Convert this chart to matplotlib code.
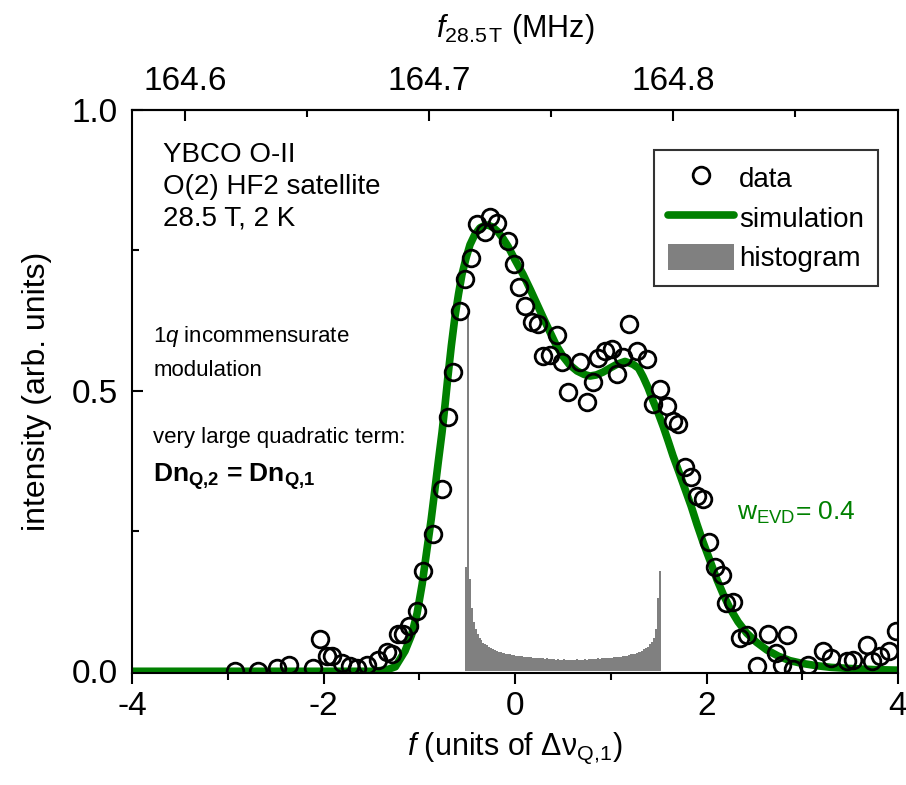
"""NMR satellite spectrum with simulation and field-distribution histogram"""
import matplotlib
matplotlib.use("Agg")
import matplotlib.pyplot as plt
from matplotlib.ticker import MultipleLocator, FixedLocator, FormatStrFormatter
from matplotlib.lines import Line2D
from matplotlib.patches import Patch
import numpy as np

plt.rcParams['font.family'] = ['Liberation Sans', 'DejaVu Sans']
plt.rcParams['mathtext.fontset'] = 'custom'
plt.rcParams['mathtext.rm'] = 'Liberation Sans'
plt.rcParams['mathtext.it'] = 'Liberation Sans:italic'
plt.rcParams['mathtext.bf'] = 'Liberation Sans:bold'
plt.rcParams['axes.unicode_minus'] = False

data_f = [-2.924, -2.684, -2.486, -2.360, -2.110, -2.037, -1.963, -1.911, -1.807,
          -1.723, -1.650, -1.546, -1.431, -1.337, -1.285, -1.222, -1.170, -1.107,
          -1.023, -0.961, -0.856, -0.762, -0.700, -0.648, -0.574, -0.522, -0.460,
          -0.397, -0.313, -0.261, -0.188, -0.073, -0.010, 0.042, 0.104, 0.178,
          0.240, 0.292, 0.366, 0.439, 0.491, 0.554, 0.679, 0.752, 0.815, 0.867,
          0.940, 1.013, 1.065, 1.128, 1.191, 1.274, 1.379, 1.441, 1.514, 1.587,
          1.650, 1.702, 1.775, 1.838, 1.901, 1.963, 2.026, 2.089, 2.162, 2.204,
          2.277, 2.350, 2.423, 2.527, 2.642, 2.726, 2.789, 2.841, 2.903, 3.060,
          3.217, 3.300, 3.467, 3.530, 3.676, 3.728, 3.812, 3.906, 3.979]
data_i = [0.000, 0.000, 0.005, 0.011, 0.005, 0.057, 0.028, 0.028, 0.014,
          0.009, 0.005, 0.011, 0.020, 0.034, 0.030, 0.066, 0.067, 0.080,
          0.107, 0.179, 0.245, 0.325, 0.453, 0.533, 0.641, 0.698, 0.737,
          0.796, 0.783, 0.810, 0.799, 0.766, 0.725, 0.684, 0.650, 0.623,
          0.618, 0.561, 0.563, 0.600, 0.551, 0.497, 0.551, 0.480, 0.515, 0.558,
          0.570, 0.574, 0.529, 0.560, 0.618, 0.570, 0.556, 0.476, 0.503, 0.472,
          0.446, 0.440, 0.364, 0.346, 0.313, 0.307, 0.231, 0.185, 0.171, 0.121,
          0.124, 0.060, 0.064, 0.009, 0.066, 0.032, 0.012, 0.064, 0.004, 0.011,
          0.037, 0.023, 0.018, 0.020, 0.046, 0.018, 0.028, 0.037, 0.071]

# simulated line shape
sim_f = [-4.0, -1.5, -1.35, -1.25, -1.149, -1.08, -1.023, -0.97, -0.919, -0.876,
         -0.836, -0.80, -0.762, -0.730, -0.700, -0.665, -0.627, -0.59, -0.554,
         -0.51, -0.470, -0.42, -0.366, -0.32, -0.282, -0.23, -0.178, -0.125,
         -0.073, 0.0, 0.084, 0.16, 0.230, 0.30, 0.366, 0.43, 0.501, 0.57, 0.648,
         0.72, 0.783, 0.85, 0.919, 0.99, 1.065, 1.149, 1.232, 1.29, 1.337, 1.39,
         1.441, 1.50, 1.55, 1.60, 1.65, 1.71, 1.775, 1.84, 1.90, 1.96, 2.03,
         2.11, 2.18, 2.245, 2.33, 2.42, 2.52, 2.63, 2.75, 2.87, 3.0, 3.15, 3.3,
         3.5, 3.75, 4.0]
sim_i = [0.0, 0.0, 0.002, 0.008, 0.036, 0.065, 0.103, 0.155, 0.218, 0.270,
         0.325, 0.375, 0.426, 0.476, 0.526, 0.580, 0.632, 0.672, 0.707,
         0.737, 0.760, 0.778, 0.790, 0.794, 0.795, 0.791, 0.783, 0.771,
         0.757, 0.733, 0.707, 0.680, 0.654, 0.628, 0.604, 0.581, 0.561, 0.546, 0.535,
         0.529, 0.526, 0.528, 0.533, 0.540, 0.547, 0.552, 0.547, 0.540, 0.525, 0.505,
         0.482, 0.458, 0.435, 0.410, 0.384, 0.356, 0.325, 0.294, 0.262, 0.232, 0.200,
         0.163, 0.135, 0.112, 0.088, 0.068, 0.052, 0.038, 0.027, 0.019, 0.014, 0.010, 0.007,
         0.005, 0.003, 0.002]

# histogram of the quadrupole shift distribution, bins of 0.02 starting at -0.52
hist_start = -0.52
hist_width = 0.02
hist_vals = [0.185, 0.635, 0.165, 0.112, 0.088, 0.075, 0.066, 0.060, 0.055, 0.051,
             0.048, 0.046, 0.043, 0.041, 0.040, 0.038, 0.036, 0.035, 0.034, 0.033,
             0.032, 0.031, 0.031, 0.030, 0.029, 0.029, 0.028, 0.028, 0.027, 0.027,
             0.026, 0.026, 0.025, 0.025, 0.025, 0.024,
             0.024, 0.024, 0.023, 0.023, 0.023, 0.022, 0.023, 0.022, 0.022, 0.022,
             0.022, 0.021, 0.022, 0.021, 0.021, 0.022, 0.021, 0.021, 0.021, 0.021,
             0.021, 0.021, 0.022, 0.021, 0.021, 0.021, 0.022, 0.021, 0.022, 0.022,
             0.022, 0.022, 0.022, 0.023, 0.022, 0.023, 0.023, 0.023, 0.024, 0.024,
             0.024, 0.025, 0.025, 0.025, 0.026, 0.026, 0.027, 0.027, 0.028, 0.029,
             0.030, 0.030, 0.031, 0.033, 0.034,
             0.035, 0.037, 0.039, 0.041, 0.044,
             0.048, 0.053, 0.060, 0.075, 0.130, 0.178]

# frequency scale of the top axis
mhz_at_zero = 164.7352
mhz_per_unit = 0.03924
mhz_ticks = [164.6, 164.7, 164.8]
mhz_minor = [164.55, 164.65, 164.75, 164.85]

green = '#008000'
grey = '#808080'

fig = plt.figure(figsize=(9.06, 7.85), dpi=100)
ax = fig.add_axes([0.1457, 0.1427, 0.8455, 0.7172])

hist_left = hist_start + hist_width * np.arange(len(hist_vals))
ax.bar(hist_left, hist_vals, width=hist_width, align='edge', color=grey,
       linewidth=0, zorder=1)
ax.plot(sim_f, sim_i, color=green, linewidth=5.5, solid_capstyle='round',
        solid_joinstyle='round', zorder=2)
ax.plot(data_f, data_i, 'o', markersize=12, markerfacecolor='none',
        markeredgecolor='black', markeredgewidth=2, zorder=3)

ax.set_xlim(-4, 4)
ax.set_ylim(-0.003, 1.0)
ax.xaxis.set_major_locator(MultipleLocator(2))
ax.xaxis.set_minor_locator(MultipleLocator(1))
ax.yaxis.set_major_locator(MultipleLocator(0.5))
ax.yaxis.set_minor_locator(MultipleLocator(0.25))
ax.yaxis.set_major_formatter(FormatStrFormatter('%.1f'))
ax.tick_params(axis='x', which='both', direction='out', top=False, labelsize=24,
               width=1.5, pad=5)
ax.tick_params(axis='x', which='major', length=8)
ax.tick_params(axis='x', which='minor', length=5)
ax.tick_params(axis='y', which='both', direction='in', right=False, labelsize=24,
               width=1.5, pad=10)
ax.tick_params(axis='y', which='major', length=8)
ax.tick_params(axis='y', which='minor', length=5)
for s in ax.spines.values():
    s.set_linewidth(1.5)

ax.set_xlabel(r'$\mathit{f}$ (units of $\Delta\mathrm{\nu}_{\mathregular{Q{,}1}}$)',
              fontsize=22, labelpad=6)
ax.set_ylabel('intensity (arb. units)', fontsize=23, labelpad=14)

# top axis in MHz
secax = ax.secondary_xaxis('top', functions=(lambda f: mhz_at_zero + mhz_per_unit * f,
                                             lambda m: (m - mhz_at_zero) / mhz_per_unit))
secax.xaxis.set_major_locator(FixedLocator(mhz_ticks))
secax.xaxis.set_minor_locator(FixedLocator(mhz_minor))
secax.xaxis.set_major_formatter(FormatStrFormatter('%.1f'))
secax.tick_params(axis='x', which='both', direction='in', labelsize=24, width=1.5, pad=9)
secax.tick_params(axis='x', which='major', length=8)
secax.tick_params(axis='x', which='minor', length=5)
secax.spines['top'].set_linewidth(1.5)
secax.set_xlabel(r'$\mathit{f}_{\mathregular{28.5\,T}}$ (MHz)', fontsize=22, labelpad=21)

# annotations
ax.text(-3.68, 0.943, 'YBCO O-II\nO(2) HF2 satellite\n28.5 T, 2 K', fontsize=20,
        va='top', ha='left', linespacing=1.28)
ax.text(-3.78, 0.597, '1$\\mathit{q}$ incommensurate', fontsize=16, va='center')
ax.text(-3.78, 0.535, 'modulation', fontsize=16, va='center')
ax.text(-3.78, 0.416, 'very large quadratic term:', fontsize=16, va='center')
ax.text(-3.78, 0.347, r'Dn$_{\mathbf{Q{,}2}}$ = Dn$_{\mathbf{Q{,}1}}$', fontsize=19,
        fontweight='bold', va='center')
ax.text(2.32, 0.283, r'w$_{\mathregular{EVD}}$= 0.4', fontsize=19, color=green,
        va='center')

handles = [
    Line2D([], [], linestyle='none', marker='o', markersize=12,
           markerfacecolor='none', markeredgecolor='black', markeredgewidth=2),
    Line2D([], [], color=green, linewidth=5.5, solid_capstyle='round'),
    Patch(facecolor=grey, edgecolor='none'),
]
leg = ax.legend(handles, ['data', 'simulation', 'histogram'], loc='upper right',
                bbox_to_anchor=(878 / 906, 1 - 150 / 785), bbox_transform=fig.transFigure,
                borderaxespad=0, fontsize=20, frameon=True, fancybox=False,
                edgecolor='black', handlelength=2.4, handleheight=1.1,
                handletextpad=0.18, labelspacing=0.4, borderpad=0.5)
leg.get_frame().set_linewidth(1.5)

fig.savefig('out.png', dpi=100)
